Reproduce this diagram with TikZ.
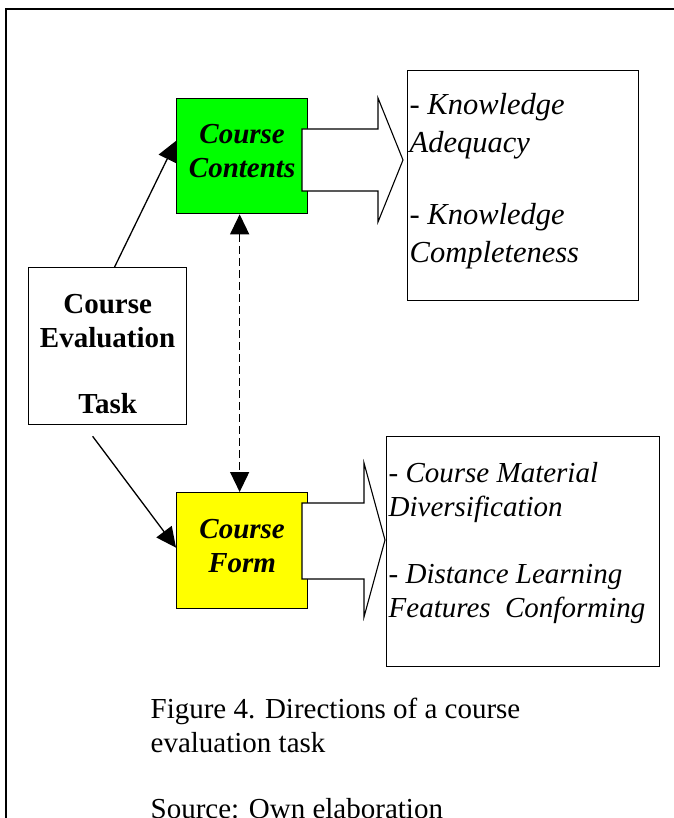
\documentclass[tikz,border=0pt]{standalone}
\usepackage{fontspec}
\setmainfont{Liberation Serif}
\usetikzlibrary{arrows.meta}
\definecolor{boxGreen}{RGB}{0,255,0}
\definecolor{boxYellow}{RGB}{255,255,0}

\begin{document}
\begin{tikzpicture}[
    x=1pt, y=-1pt,
    line width=1.3pt,
    box/.style={
        rectangle,
        draw=black,
        inner sep=0,
        anchor=north west,
        align=center,
        font=\fontsize{29}{34}\selectfont,
      },
    dir/.style={box, font=\fontsize{29}{34}\selectfont\bfseries\itshape},
    list/.style={anchor=base west, inner sep=0, align=left},
    caption/.style={anchor=base west, inner sep=0, align=left, font=\fontsize{29}{34}\selectfont},
    blk/.style={draw=black, fill=white, line width=1.1pt, line join=miter},
    arr/.style={-{Triangle[length=20pt, width=19pt]}},
    dashline/.style={dash pattern=on 8pt off 4pt},
  ]
  \useasboundingbox (0,0) rectangle (673,818);
  \draw[line width=2pt] (6,840) -- (6,9) -- (690,9);

  \node[box, font=\fontsize{29}{34}\selectfont\bfseries, text height=135pt, minimum width=158pt, minimum height=157pt] (T) at (28,267) {Course\\Evaluation\\[32pt]Task};
  \node[dir, fill=boxGreen, text depth=11pt, minimum width=131pt, minimum height=115pt] (CC) at (176,98) {Course\\Contents};
  \node[dir, fill=boxYellow, text depth=10pt, minimum width=131pt, minimum height=116pt] (CF) at (176,492) {Course\\Form};

  \node[box, minimum width=231pt, minimum height=230pt] (KA) at (407,70) {};
  \node[box, minimum width=273pt, minimum height=230pt] (KF) at (386,436) {};

  % base = last line
  \node[list, font=\fontsize{30.5}{38}\selectfont\itshape] (KAt) at (409,262)
    {- Knowledge\\Adequacy\\[34pt]- Knowledge\\Completeness};
  \node[list, font=\fontsize{29}{34}\selectfont\itshape] (KFt) at (388,617)
    {- Course Material\\Diversification\\[33pt]- Distance Learning\\Features\ \ Conforming};

  % block arrows
  \draw[blk] (302,129) -- (378,129) -- (378,98) -- (403,160) -- (378,222) -- (378,191) -- (302,191) -- cycle;
  \draw[blk] (302,503) -- (364,503) -- (364,463) -- (385,540) -- (364,617) -- (364,579) -- (302,579) -- cycle;

  % connectors
  \draw[arr] (T.85) -- (CC.167);
  \draw[arr] ([xshift=-15pt, yshift=-11pt]T.south) -- ([yshift=3pt]CF.west);
  \draw[dashline, {Triangle[length=20pt, width=19pt]}-{Triangle[length=20pt, width=19pt]}]
    ([xshift=-2.5pt]CC.south) -- ([xshift=-2.5pt]CF.north);

  \node[caption] (cap) at (150,752) {Figure 4. Directions of a course\\evaluation task};
  \node[caption] (src) at (150,818) {Source: Own elaboration};
\end{tikzpicture}
\end{document}
